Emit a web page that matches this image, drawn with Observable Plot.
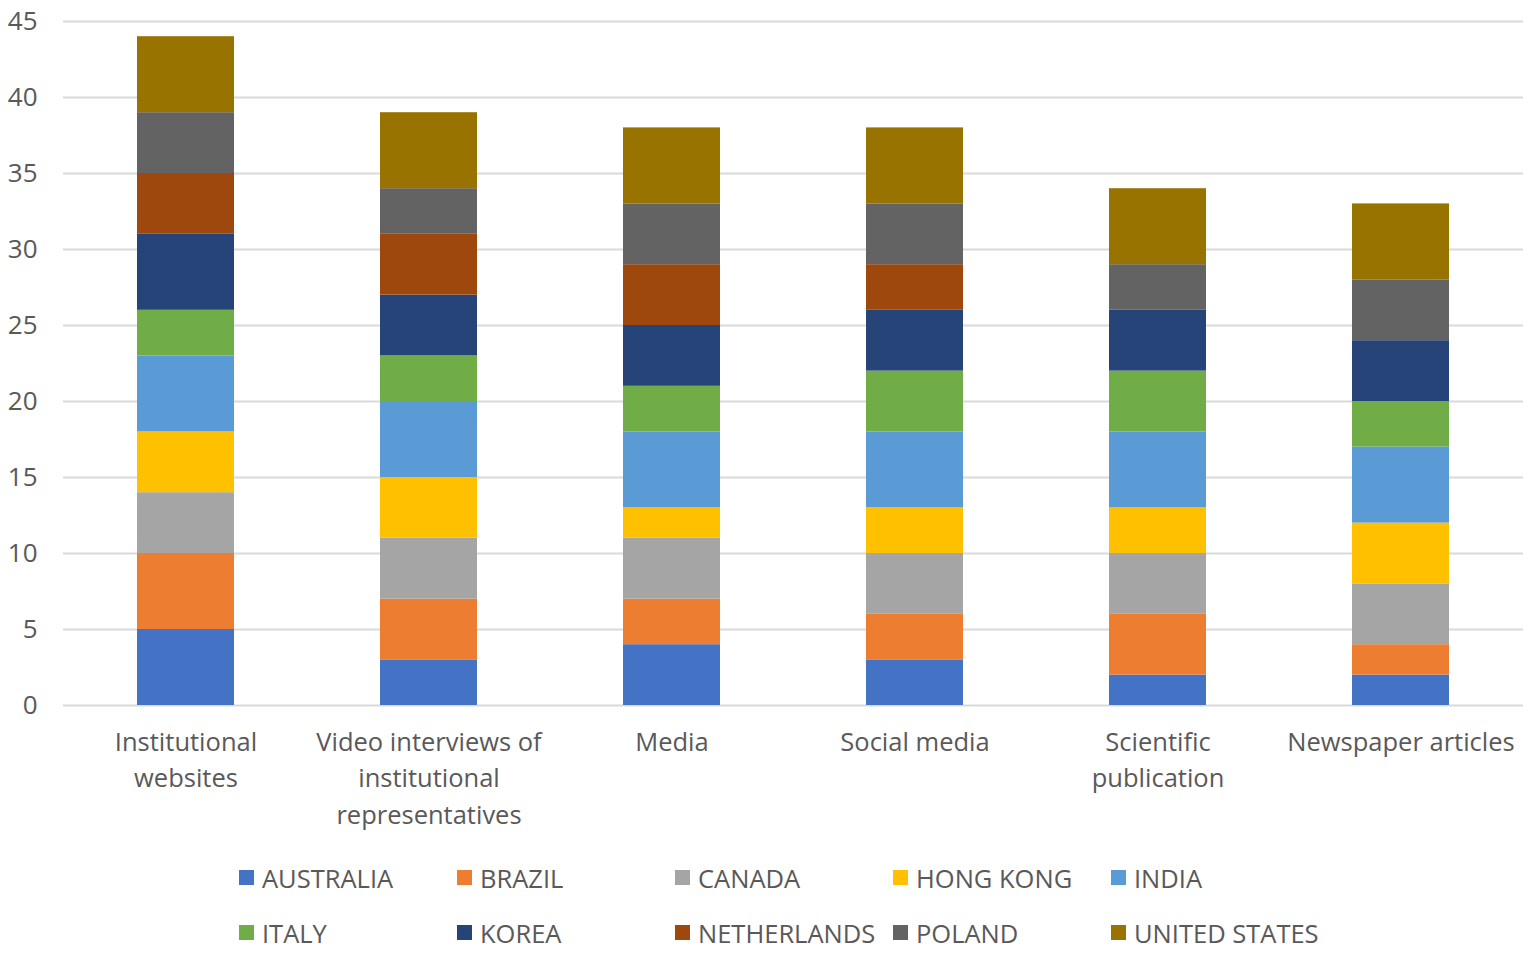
<!DOCTYPE html>
<html>
<head>
<meta charset="utf-8">
<script src="https://cdn.jsdelivr.net/npm/d3@7"></script>
<script src="https://cdn.jsdelivr.net/npm/@observablehq/plot@0.6"></script>
<style>
  body { margin: 0; background: #fff; font-family: "Open Sans", sans-serif; }
  #chart svg { display: block; }
  #legend {
    display: grid;
    grid-template-columns: repeat(5, 218px);
    grid-auto-rows: 55px;
    margin-left: 239px;
    margin-top: 10px;
    font-size: 25.5px;
    color: #595959;
  }
  .item { display: flex; align-items: center; white-space: nowrap; }
  .sw { width: 15px; height: 15px; margin-right: 8px; flex: none; }
</style>
</head>
<body>
<div id="chart"></div>
<div id="legend"></div>
<script>
const categories = [
  "Institutional websites",
  "Video interviews of institutional representatives",
  "Media",
  "Social media",
  "Scientific publication",
  "Newspaper articles"
];
const categoryLabels = [
  "Institutional\nwebsites",
  "Video interviews of\ninstitutional\nrepresentatives",
  "Media",
  "Social media",
  "Scientific\npublication",
  "Newspaper articles"
];
const countries = ["AUSTRALIA", "BRAZIL", "CANADA", "HONG KONG", "INDIA", "ITALY", "KOREA", "NETHERLANDS", "POLAND", "UNITED STATES"];
const colors = ["#4472C4", "#ED7D31", "#A5A5A5", "#FFC000", "#5B9BD5", "#70AD47", "#264478", "#9E480E", "#636363", "#997300"];

// values per country, in category order
const australia    = [5, 3, 4, 3, 2, 2];
const brazil       = [5, 4, 3, 3, 4, 2];
const canada       = [4, 4, 4, 4, 4, 4];
const hongKong     = [4, 4, 2, 3, 3, 4];
const india        = [5, 5, 5, 5, 5, 5];
const italy        = [3, 3, 3, 4, 4, 3];
const korea        = [5, 4, 4, 4, 4, 4];
const netherlands  = [4, 4, 4, 3, 0, 0];
const poland       = [4, 3, 4, 4, 3, 4];
const unitedStates = [5, 5, 5, 5, 5, 5];
const yTicks = [0, 5, 10, 15, 20, 25, 30, 35, 40, 45];

const series = [australia, brazil, canada, hongKong, india, italy, korea, netherlands, poland, unitedStates];
const data = [];
series.forEach((vals, si) => {
  vals.forEach((v, ci) => data.push({category: categories[ci], country: countries[si], value: v}));
});
const labelOf = new Map(categories.map((c, i) => [c, categoryLabels[i]]));

const plot = Plot.plot({
  width: 1536,
  height: 840,
  marginLeft: 63,
  marginRight: 13,
  marginTop: 21,
  marginBottom: 135,
  style: {fontFamily: "'Open Sans', sans-serif", fontSize: "25px", color: "#595959", background: "#fff"},
  x: {domain: categories, paddingInner: 0.6, paddingOuter: 0.3, label: null},
  y: {domain: [0, 45], label: null},
  color: {domain: countries, range: colors},
  marks: [
    Plot.gridY(yTicks, {stroke: "#d9d9d9", strokeOpacity: 1, strokeWidth: 2}),
    Plot.barY(data, {x: "category", y: "value", fill: "country", order: countries}),
    Plot.axisY(yTicks, {tickSize: 0, tickPadding: 26, fontSize: 26, fill: "#595959"}),
    Plot.axisX({tickSize: 0, tickPadding: 20, fontSize: 25.5, fill: "#595959", lineHeight: 1.42, tickFormat: d => labelOf.get(d)})
  ]
});
document.getElementById("chart").appendChild(plot);

const legend = document.getElementById("legend");
countries.forEach((c, i) => {
  const item = document.createElement("div");
  item.className = "item";
  const sw = document.createElement("span");
  sw.className = "sw";
  sw.style.background = colors[i];
  item.appendChild(sw);
  item.appendChild(document.createTextNode(c));
  legend.appendChild(item);
});
</script>
</body>
</html>
